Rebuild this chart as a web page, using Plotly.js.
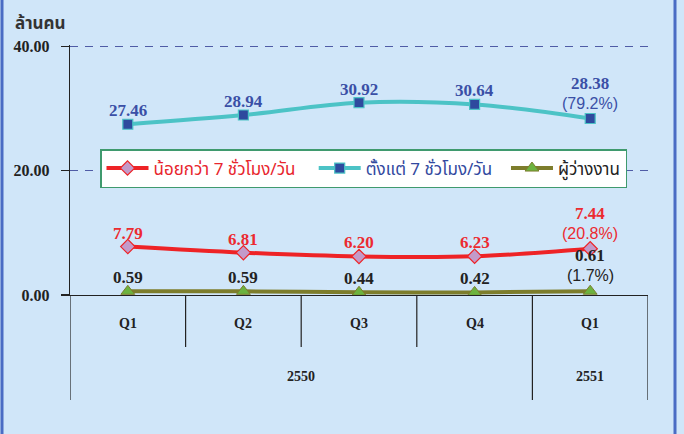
<!DOCTYPE html>
<html>
<head>
<meta charset="utf-8">
<script src="https://cdn.plot.ly/plotly-3.0.1.min.js"></script>
<style>
  html, body { margin: 0; padding: 0; background: #d0e6f9; }
  #chart { width: 684px; height: 434px; }
</style>
</head>
<body>
<div id="chart"></div>
<script>
// ---- data ----
const quarters = ["Q1", "Q2", "Q3", "Q4", "Q1"];
const years = ["2550", "2550", "2550", "2550", "2551"];
const lessThan7 = [7.79, 6.81, 6.20, 6.23, 7.44];
const atLeast7 = [27.46, 28.94, 30.92, 30.64, 28.38];
const unemployed = [0.59, 0.59, 0.44, 0.42, 0.61];
const lastShares = ["20.8%", "79.2%", "1.7%"];
const seriesNames = ["น้อยกว่า 7 ชั่วโมง/วัน", "ตั้งแต่ 7 ชั่วโมง/วัน", "ผู้ว่างงาน"];
const yTicks = [0, 20, 40];
const yTickLabels = ["0.00", "20.00", "40.00"];
const yUnit = "ล้านคน";

// ---- styles ----
const thaiFont = "Noto Sans Thai, Noto Sans, DejaVu Sans, sans-serif";
const numFont = "Liberation Serif, Times New Roman, serif";
const series = [
  { y: lessThan7, share: lastShares[0], name: seriesNames[0], txt: "#ec2a30", legTxt: "#e8262e", legPad: "\u00a0\u00a0\u00a0",
    line: "#ee2326", marker: { symbol: "diamond", size: 11, color: "#c39ac9", line: { color: "#ee2326", width: 1.2 } } },
  { y: atLeast7, share: lastShares[1], name: seriesNames[1], txt: "#3a4fa6", legTxt: "#3249a0", legPad: "\u00a0\u00a0",
    line: "#4cc3c6", marker: { symbol: "square", size: 10, color: "#2e4a9e", line: { color: "#4cc3c6", width: 1.2 } } },
  { y: unemployed, share: lastShares[2], name: seriesNames[2], txt: "#222222", legTxt: "#222222", legPad: "",
    line: "#7d7d2c", marker: { symbol: "triangle-up", size: 12, color: "#6cb33f", line: { color: "#7d7d2c", width: 1 } } }
];

const xs = quarters.map((_, i) => i + 0.5);
const traces = series.map(s => ({
  x: xs, y: s.y, name: "<span style='color:" + s.legTxt + "'>" + s.name + "</span>" + s.legPad,
  mode: "lines+markers", line: { color: s.line, width: 4, shape: "spline" },
  marker: s.marker, cliponaxis: false, hoverinfo: "skip"
}));

// ---- value labels ----
const annotations = [];
series.forEach(s => {
  s.y.forEach((v, i) => {
    const isLast = i === s.y.length - 1;
    annotations.push({
      x: xs[i], y: v, xref: "x", yref: "y", text: "<b>" + v.toFixed(2) + "</b>", showarrow: false,
      xanchor: "center", yanchor: "bottom", yshift: isLast ? 25 : 3, borderpad: 0,
      font: { family: numFont, size: 17, color: s.txt }
    });
    if (isLast) annotations.push({
      x: xs[i], y: v, xref: "x", yref: "y", text: "(" + s.share + ")", showarrow: false,
      xanchor: "center", yanchor: "bottom", yshift: 6, borderpad: 0,
      font: { family: "Liberation Sans, Arial, sans-serif", size: 16, color: s.txt }
    });
  });
});

// ---- category dividers & labels (axis decoration) ----
const L = 70, R = 648, B = 295, T = 45;
const pxToPaperY = py => (B - py) / (B - T);
const pxToPaperX = px => (px - L) / (R - L);
const shapes = [];
for (let i = 0; i <= quarters.length; i++) {
  const isYearEdge = i === 0 || i === quarters.length || years[i] !== years[i - 1];
  shapes.push({
    type: "line", xref: "x", yref: "paper", x0: i, x1: i, y0: 0,
    y1: pxToPaperY(isYearEdge ? 400 : 347),
    line: { color: "#222", width: 1.2 }
  });
}
quarters.forEach((q, i) => annotations.push({
  x: xs[i], y: pxToPaperY(333), xref: "x", yref: "paper", text: "<b>" + q + "</b>",
  showarrow: false, font: { family: numFont, size: 14, color: "#222" }
}));
const yearGroups = [];
years.forEach((y, i) => {
  const g = yearGroups[yearGroups.length - 1];
  if (g && g.year === y) g.end = i + 1; else yearGroups.push({ year: y, start: i, end: i + 1 });
});
yearGroups.forEach(g => annotations.push({
  x: (g.start + g.end) / 2, y: pxToPaperY(386), xref: "x", yref: "paper", text: "<b>" + g.year + "</b>",
  showarrow: false, font: { family: numFont, size: 14, color: "#222" }
}));
annotations.push({
  x: pxToPaperX(13), y: pxToPaperY(9), xref: "paper", yref: "paper", xanchor: "left", yanchor: "top",
  text: "<b>" + yUnit + "</b>", showarrow: false, font: { family: thaiFont, size: 17, color: "#333" }
});
// outer side borders
[2, 675].forEach(px => shapes.push({
  type: "line", xref: "paper", yref: "paper", x0: pxToPaperX(px), x1: pxToPaperX(px),
  y0: pxToPaperY(434), y1: pxToPaperY(0), line: { color: "#4a6cc4", width: 3 }
}));

const layout = {
  width: 684, height: 434,
  margin: { l: L, r: 684 - R, t: T, b: 434 - B },
  paper_bgcolor: "#d0e6f9", plot_bgcolor: "#d0e6f9",
  showlegend: true,
  legend: {
    orientation: "h", x: pxToPaperX(100), y: pxToPaperY(149), xanchor: "left", yanchor: "top",
    bgcolor: "#ffffff", bordercolor: "#3f9a6e", borderwidth: 1.5, itemwidth: 42,
    font: { family: thaiFont, size: 17, color: "#222" }
  },
  xaxis: {
    range: [0, quarters.length], showgrid: false, zeroline: false, showticklabels: false,
    ticks: "", showline: true, linecolor: "#222", linewidth: 1.2, fixedrange: true
  },
  yaxis: {
    range: [0, 40.2], tickvals: yTicks, ticktext: yTickLabels, ticks: "outside", ticklen: 8,
    tickcolor: "#222", tickwidth: 1.2, showline: true, linecolor: "#222", linewidth: 1.2,
    ticklabelstandoff: 8,
    showgrid: true, gridcolor: "#4f5ca6", gridwidth: 1.3, griddash: "8px,7px", zeroline: false,
    tickfont: { family: numFont, size: 16, color: "#222", weight: "bold" }, fixedrange: true
  },
  shapes: shapes,
  annotations: annotations
};

Plotly.newPlot("chart", traces, layout, { staticPlot: true, displayModeBar: false });
</script>
</body>
</html>
